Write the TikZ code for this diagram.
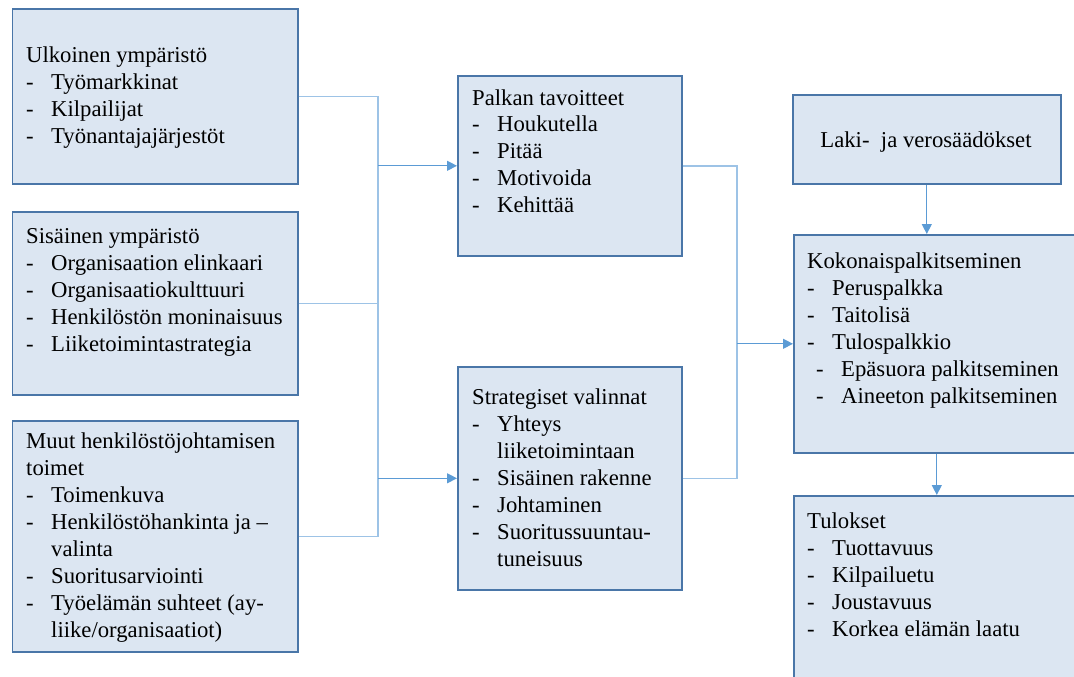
\documentclass[tikz,border=0pt]{standalone}
\usepackage{fontspec}
\setmainfont{Liberation Serif}
\usetikzlibrary{arrows.meta,calc}

\definecolor{boxfill}{HTML}{DCE6F2}
\definecolor{boxline}{HTML}{4A76A8}
\definecolor{elbowline}{HTML}{9DC3E6}
\definecolor{arrowline}{HTML}{5B9BD5}

% text helpers: a heading line, a dashed item, a continuation line
\newcommand{\hd}[1]{\hbox{#1}}
\newcommand{\itm}[1]{\hbox{\makebox[25pt][l]{-}#1}}
\newcommand{\itmx}[1]{\hbox{\hspace*{9pt}\makebox[25pt][l]{-}#1}}
\newcommand{\cnt}[1]{\hbox{\hspace*{25pt}#1}}
\newcommand{\lines}[1]{\vtop{\baselineskip=27pt\lineskiplimit=0pt\lineskip=0pt #1}}

\tikzset{
  panel/.style={draw=boxline, fill=boxfill, line width=1.6pt, inner sep=0pt,
    anchor=north west},
  label/.style={anchor=base west, inner sep=0pt, font=\fontsize{22.7}{27}\selectfont},
  elbow/.style={draw=elbowline, line width=1.5pt},
  arr/.style={draw=arrowline, line width=1.2pt,
    -{Triangle[length=10pt,width=10pt]}}
}

\begin{document}
\begin{tikzpicture}[x=1pt,y=-1pt]
\useasboundingbox (0,0) rectangle (1074,677);
\clip (0,0) rectangle (1074,677);

% boxes
\node[panel, minimum width=285.5pt, minimum height=175pt] (A) at (11.5,8) {};
\node[panel, minimum width=285.5pt, minimum height=183pt] (B) at (11.5,211) {};
\node[panel, minimum width=285.5pt, minimum height=231pt] (C) at (11.5,420) {};
\node[panel, minimum width=224pt, minimum height=180pt] (P) at (457,75) {};
\node[panel, minimum width=224pt, minimum height=223pt] (S) at (457,366) {};
\node[panel, minimum width=268pt, minimum height=89pt] (L) at (792,94) {};
\node[panel, minimum width=286pt, minimum height=218pt] (K) at (793,234) {};
\node[panel, minimum width=286pt, minimum height=225pt] (T) at (793,495) {};

% box texts
\node[label] (At) at (26,63) {\lines{\hd{Ulkoinen ympäristö}\itm{Työmarkkinat}\itm{Kilpailijat}\itm{Työnantajajärjestöt}}};
\node[label] (Bt) at (26,243) {\lines{\hd{Sisäinen ympäristö}\itm{Organisaation elinkaari}\itm{Organisaatiokulttuuri}\itm{Henkilöstön moninaisuus}\itm{Liiketoimintastrategia}}};
\node[label] (Ct) at (26,448) {\lines{\hd{Muut henkilöstöjohtamisen}\hd{toimet}\itm{Toimenkuva}\itm{Henkilöstöhankinta ja –}\cnt{valinta}\itm{Suoritusarviointi}\itm{Työelämän suhteet (ay-}\cnt{liike/organisaatiot)}}};
\node[label] (Pt) at (472,105) {\lines{\hd{Palkan tavoitteet}\itm{Houkutella}\itm{Pitää}\itm{Motivoida}\itm{Kehittää}}};
\node[label] (St) at (472,404) {\lines{\hd{Strategiset valinnat}\itm{Yhteys}\cnt{liiketoimintaan}\itm{Sisäinen rakenne}\itm{Johtaminen}\itm{Suoritussuuntau-}\cnt{tuneisuus}}};
\node[label, anchor=base] (Lt) at (926,147) {Laki-\ \ ja verosäädökset};
\node[label] (Kt) at (807,268) {\lines{\hd{Kokonaispalkitseminen}\itm{Peruspalkka}\itm{Taitolisä}\itm{Tulospalkkio}\itmx{Epäsuora palkitseminen}\itmx{Aineeton palkitseminen}}};
\node[label] (Tt) at (807,528) {\lines{\hd{Tulokset}\itm{Tuottavuus}\itm{Kilpailuetu}\itm{Joustavuus}\itm{Korkea elämän laatu}}};

% junction columns
\coordinate (jl) at (378,0);
\coordinate (jr) at (737,0);

% left bus into the two middle boxes
\draw[elbow] (A.east) -- (A.east -| jl) -- (C.east -| jl) -- (C.east);
\draw[elbow] (B.east) -- (B.east -| jl);
\draw[arr] (P.west -| jl) -- (P.west);
\draw[arr] (S.west -| jl) -- (S.west);

% right bus into total rewards
\draw[elbow] (P.east) -- (P.east -| jr) -- (S.east -| jr) -- (S.east);
\draw[arr] (K.west -| jr) -- (K.west);

% vertical flow on the right
\draw[arr] (L.south) -- (L.south |- K.north);
\draw[arr] (K.south) -- (T.north);
\end{tikzpicture}
\end{document}
